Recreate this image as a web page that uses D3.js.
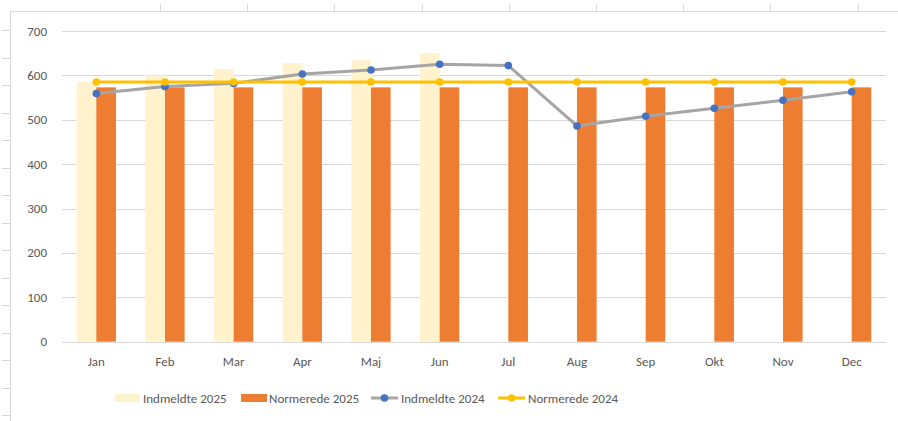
<!DOCTYPE html>
<html lang="da">
<head>
<meta charset="UTF-8">
<title>Indmeldte og normerede</title>
<style>
  body { margin: 0; background: #fff; overflow: hidden; }
  svg { display: block; }
  text { font-family: Carlito, Calibri, Lato, "Open Sans", sans-serif; font-size: 13px; fill: #595959; }
  .grid line { stroke: #d9d9d9; stroke-width: 1px; }
</style>
<script src="https://d3js.org/d3.v7.min.js"></script>
</head>
<body>
<svg id="chart"></svg>
<script>
const months = ["Jan", "Feb", "Mar", "Apr", "Maj", "Jun", "Jul", "Aug", "Sep", "Okt", "Nov", "Dec"];
const indmeldte2025 = [585, 600, 614, 628, 634, 650, null, null, null, null, null, null];
const normerede2025 = [573, 573, 573, 573, 573, 573, 573, 573, 573, 573, 573, 573];
const indmeldte2024 = [559, 575, 582, 603, 612, 625, 622, 486, 508, 526, 544, 563];
const normerede2024 = [585, 585, 585, 585, 585, 585, 585, 585, 585, 585, 585, 585];
const yTicks = [0, 100, 200, 300, 400, 500, 600, 700];

const W = 898, H = 421;
const svg = d3.select("#chart").attr("width", W).attr("height", H);

// spreadsheet cell borders around the chart
const sheet = svg.append("g").attr("stroke", "#d9d9d9").attr("stroke-width", 1);
sheet.append("line").attr("x1", 10.5).attr("x2", 10.5).attr("y1", 11).attr("y2", H);
sheet.append("line").attr("x1", 10).attr("x2", W).attr("y1", 11.5).attr("y2", 11.5);
d3.range(30, H, 27.5).forEach(yy => {
  sheet.append("line").attr("x1", 2).attr("x2", 10).attr("y1", Math.round(yy) + 0.5).attr("y2", Math.round(yy) + 0.5);
});
d3.range(160, W, 87.2).forEach(xx => {
  sheet.append("line").attr("x1", Math.round(xx) + 0.5).attr("x2", Math.round(xx) + 0.5).attr("y1", 4).attr("y2", 11);
});

const plotLeft = 62, plotRight = 886, plotTop = 31, plotBottom = 341.7;

const x = d3.scaleBand().domain(months).range([plotLeft, plotRight]).paddingInner(0).paddingOuter(0);
const y = d3.scaleLinear().domain([0, 700]).range([plotBottom, plotTop]);

// grid
const grid = svg.append("g").attr("class", "grid");
grid.selectAll("line").data(yTicks).join("line")
  .attr("x1", plotLeft).attr("x2", plotRight)
  .attr("y1", d => Math.round(y(d)) + 0.5).attr("y2", d => Math.round(y(d)) + 0.5);

// y axis labels
svg.append("g").selectAll("text").data(yTicks).join("text")
  .attr("x", 47).attr("y", d => y(d)).attr("dy", "0.35em")
  .attr("text-anchor", "end").text(d => d);

// x axis labels
svg.append("g").selectAll("text").data(months).join("text")
  .attr("x", d => x(d) + x.bandwidth() / 2).attr("y", 366)
  .attr("text-anchor", "middle").text(d => d);

// bars: two series, gap width 150%
const barW = x.bandwidth() / 3.5;
const bars = svg.append("g");
bars.selectAll("rect.i25").data(months.map((m, i) => ({ m, v: indmeldte2025[i] })).filter(d => d.v != null))
  .join("rect").attr("class", "i25")
  .attr("x", d => x(d.m) + x.bandwidth() / 2 - barW)
  .attr("width", barW)
  .attr("y", d => y(d.v)).attr("height", d => y(0) - y(d.v))
  .attr("fill", "#FFF2CC");
bars.selectAll("rect.n25").data(months.map((m, i) => ({ m, v: normerede2025[i] })))
  .join("rect").attr("class", "n25")
  .attr("x", d => x(d.m) + x.bandwidth() / 2)
  .attr("width", barW)
  .attr("y", d => y(d.v)).attr("height", d => y(0) - y(d.v))
  .attr("fill", "#ED7D31");

// lines
const cx = m => x(m) + x.bandwidth() / 2;
const line = d3.line().x(d => cx(d.m)).y(d => y(d.v));

function drawSeries(values, stroke, marker) {
  const data = months.map((m, i) => ({ m, v: values[i] }));
  const g = svg.append("g");
  g.append("path").datum(data).attr("d", line)
    .attr("fill", "none").attr("stroke", stroke).attr("stroke-width", 3)
    .attr("stroke-linejoin", "round").attr("stroke-linecap", "round");
  g.selectAll("circle").data(data).join("circle")
    .attr("cx", d => cx(d.m)).attr("cy", d => y(d.v)).attr("r", 3.8)
    .attr("fill", marker);
}
drawSeries(indmeldte2024, "#A5A5A5", "#4472C4");
drawSeries(normerede2024, "#FFC000", "#FFC000");

// legend
const leg = svg.append("g");
const ly = 398;
leg.append("rect").attr("x", 115).attr("y", ly - 4).attr("width", 25).attr("height", 8).attr("fill", "#FFF2CC");
leg.append("text").attr("x", 143).attr("y", ly).attr("dy", "0.35em").text("Indmeldte 2025");
leg.append("rect").attr("x", 241).attr("y", ly - 4).attr("width", 26).attr("height", 8).attr("fill", "#ED7D31");
leg.append("text").attr("x", 269).attr("y", ly).attr("dy", "0.35em").text("Normerede 2025");
[[371, "#A5A5A5", "#4472C4", "Indmeldte 2024"], [498, "#FFC000", "#FFC000", "Normerede 2024"]].forEach(([lx, s, mk, t]) => {
  leg.append("line").attr("x1", lx).attr("x2", lx + 27).attr("y1", ly).attr("y2", ly)
    .attr("stroke", s).attr("stroke-width", 3);
  leg.append("circle").attr("cx", lx + 13.5).attr("cy", ly).attr("r", 3.8).attr("fill", mk);
  leg.append("text").attr("x", lx + 30).attr("y", ly).attr("dy", "0.35em").text(t);
});
</script>
</body>
</html>
